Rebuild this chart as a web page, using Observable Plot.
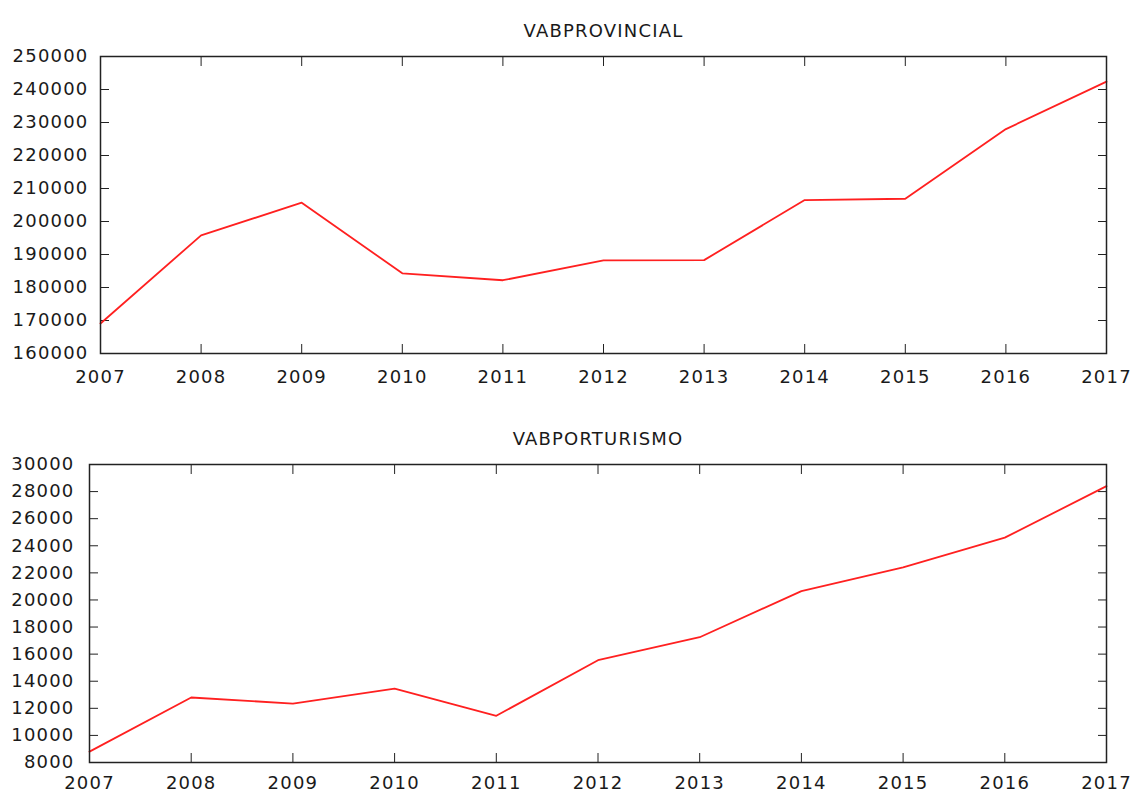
<!DOCTYPE html>
<html>
<head>
<meta charset="utf-8">
<script src="https://cdn.jsdelivr.net/npm/d3@7"></script>
<script src="https://cdn.jsdelivr.net/npm/@observablehq/plot@0.6"></script>
<style>
  html, body { margin: 0; padding: 0; background: #fff; }
  #chart svg { display: block; }
</style>
</head>
<body>
<div id="chart"></div>
<script>
const years = [2007, 2008, 2009, 2010, 2011, 2012, 2013, 2014, 2015, 2016, 2017];
const vabProvincial = [169100, 195800, 205700, 184300, 182200, 188200, 188300, 206500, 206900, 228000, 242400];
const vabPorTurismo = [8800, 12800, 12350, 13450, 11450, 15550, 17250, 20650, 22400, 24600, 28400];
const titles = ["VABPROVINCIAL", "VABPORTURISMO"];
const yTicksTop = [160000, 170000, 180000, 190000, 200000, 210000, 220000, 230000, 240000, 250000];
const yTicksBottom = [8000, 10000, 12000, 14000, 16000, 18000, 20000, 22000, 24000, 26000, 28000, 30000];

const font = {fontFamily: "'DejaVu Sans', Verdana, sans-serif", fontSize: "18px", letterSpacing: "1.2px", color: "#1a1a1a", background: "#fff"};

function panel({values, title, yDomain, yTicks, height, marginTop, marginBottom, marginLeft, padLeft, padBottom}) {
  const data = years.map((y, i) => ({year: y, value: values[i]}));
  return Plot.plot({
    width: 1137,
    height,
    marginTop,
    marginBottom,
    marginLeft,
    marginRight: 31,
    style: font,
    x: {domain: [2007, 2017], ticks: years, tickFormat: "d"},
    y: {domain: yDomain, ticks: yTicks},
    marks: [
      Plot.axisX({anchor: "bottom", ticks: years, tickFormat: "d", tickSize: -9, tickPadding: padBottom, label: null, stroke: "#222", fill: "#1a1a1a"}),
      Plot.axisX({anchor: "top", ticks: years, tickFormat: () => "", tickSize: -9, label: null, stroke: "#222"}),
      Plot.axisY({anchor: "left", ticks: yTicks, tickFormat: "d", tickSize: -9, tickPadding: padLeft, label: null, stroke: "#222", fill: "#1a1a1a"}),
      Plot.axisY({anchor: "right", ticks: yTicks, tickFormat: () => "", tickSize: -9, label: null, stroke: "#222"}),
      Plot.line(data, {x: "year", y: "value", stroke: "#ff2020", strokeWidth: 1.8}),
      Plot.frame({stroke: "#222", strokeWidth: 1.5}),
      Plot.text([title], {text: d => d, frameAnchor: "top", dy: -32, fill: "#1a1a1a", fontSize: 18, letterSpacing: "3.8px"})
    ]
  });
}

const el = document.getElementById("chart");
el.append(panel({values: vabProvincial, title: titles[0], yDomain: [160000, 250000], yTicks: yTicksTop, height: 397, marginTop: 56, marginBottom: 44, marginLeft: 100, padLeft: 21, padBottom: 26}));
el.append(panel({values: vabPorTurismo, title: titles[1], yDomain: [8000, 30000], yTicks: yTicksBottom, height: 397, marginTop: 67, marginBottom: 32, marginLeft: 89, padLeft: 24, padBottom: 23}));
</script>
</body>
</html>
